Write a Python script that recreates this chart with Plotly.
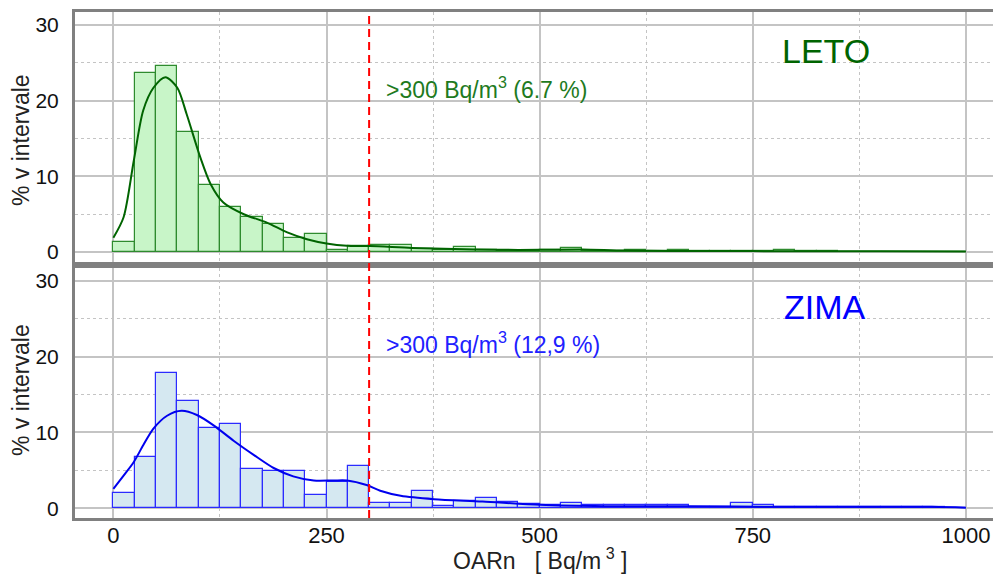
import plotly.graph_objects as go
from plotly.subplots import make_subplots

# Histogram bins (width 25, from 0 to 1000)
bin_starts = [i * 25 for i in range(40)]
bin_width = 25

leto_pct = [1.3, 23.6, 24.6, 15.9, 8.8, 6.0, 4.7, 3.65, 1.9, 2.4,
            0.25, 0.75, 0.9, 1.0, 0.45, 0.25, 0.7, 0.3, 0.1, 0.1,
            0.3, 0.6, 0.1, 0.1, 0.25, 0.1, 0.25, 0.1, 0.1, 0.1,
            0.1, 0.25, 0.1, 0.1, 0.05, 0.05, 0.05, 0.05, 0.05, 0.05]

zima_pct = [2.0, 6.8, 17.9, 14.1, 10.6, 11.05, 5.1, 4.85, 4.9, 1.7,
            3.5, 5.5, 0.7, 0.66, 2.25, 0.3, 0.97, 1.28, 0.75, 0.6,
            0.4, 0.7, 0.44, 0.4, 0.4, 0.4, 0.4, 0.2, 0.2, 0.7,
            0.44, 0.18, 0.18, 0.18, 0.18, 0.18, 0.18, 0.18, 0.1, 0.05]

# Smoothed density curves
leto_curve_x = [0, 12, 24, 35, 47, 61, 75, 86, 102, 114, 129, 153, 180, 204,
                227, 250, 274, 301, 350, 400, 450, 500, 550, 600, 700, 800, 900, 1000]
leto_curve_y = [1.9, 4.6, 12.1, 18.7, 21.7, 23.1, 21.7, 18.2, 12.5, 9.0, 6.55, 5.0, 3.9, 2.6,
                1.7, 1.14, 0.83, 0.8, 0.55, 0.4, 0.3, 0.3, 0.35, 0.2, 0.15, 0.12, 0.1, 0.08]

zima_curve_x = [0, 12, 24, 35, 47, 63, 80, 98, 118, 141, 165, 188, 211, 235, 258, 274,
                297, 313, 337, 376, 433, 500, 577, 672, 768, 960, 1000]
zima_curve_y = [2.55, 4.3, 6.1, 8.3, 10.5, 12.2, 12.85, 12.3, 10.9, 8.9, 7.0, 5.3, 4.2, 3.65,
                3.65, 3.65, 3.05, 2.3, 1.63, 1.19, 0.88, 0.44, 0.26, 0.26, 0.18, 0.18, 0.05]

threshold = 300
y_ticks = [0, 10, 20, 30]
x_ticks = [0, 250, 500, 750, 1000]

FONT = "Liberation Sans, Arial, sans-serif"
GREEN_FILL = "#c8f5c8"
GREEN_LINE = "#2e8b2e"
GREEN_CURVE = "#006400"
BLUE_FILL = "#d5e8f1"
BLUE_LINE = "#2b2bff"
BLUE_CURVE = "#0000ee"

fig = make_subplots(rows=2, cols=1, shared_xaxes=False, vertical_spacing=0.012)

centers = [s + bin_width / 2 for s in bin_starts]

fig.add_trace(go.Bar(x=centers, y=leto_pct, width=bin_width,
                     marker=dict(color=GREEN_FILL, line=dict(color=GREEN_LINE, width=1.2)),
                     showlegend=False), row=1, col=1)
fig.add_trace(go.Scatter(x=leto_curve_x, y=leto_curve_y, mode="lines",
                         line=dict(color=GREEN_CURVE, width=2, shape="spline", smoothing=0.8),
                         showlegend=False), row=1, col=1)

fig.add_trace(go.Bar(x=centers, y=zima_pct, width=bin_width,
                     marker=dict(color=BLUE_FILL, line=dict(color=BLUE_LINE, width=1.2)),
                     showlegend=False), row=2, col=1)
fig.add_trace(go.Scatter(x=zima_curve_x, y=zima_curve_y, mode="lines",
                         line=dict(color=BLUE_CURVE, width=2, shape="spline", smoothing=0.8),
                         showlegend=False), row=2, col=1)

xaxis_common = dict(range=[-45, 1040], tickvals=x_ticks, showgrid=True,
                    gridcolor="#c4c4c4", gridwidth=1.5, zeroline=False,
                    showline=True, mirror=True, linewidth=3, linecolor="#808080",
                    minor=dict(dtick=125, tick0=0, showgrid=True, griddash="dot",
                               gridcolor="#c4c4c4", gridwidth=1),
                    tickfont=dict(family=FONT, size=22, color="#111"),
                    ticks="", ticklabelstandoff=-4, automargin=False)
yaxis_common = dict(range=[-1.3, 31.7], tickvals=y_ticks, showgrid=True,
                    gridcolor="#c4c4c4", gridwidth=1.5, zeroline=False,
                    showline=True, mirror=True, linewidth=3, linecolor="#808080",
                    minor=dict(dtick=5, tick0=0, showgrid=True, griddash="dot",
                               gridcolor="#c4c4c4", gridwidth=1),
                    tickfont=dict(family=FONT, size=21, color="#111"),
                    ticks="", ticklabelstandoff=9, automargin=False)

fig.update_xaxes(**xaxis_common)
fig.update_xaxes(showticklabels=False, row=1, col=1)
fig.update_yaxes(**yaxis_common)

# page body has an 8px default margin; size and margins compensate for it
fig.update_layout(
    width=993, height=566,
    margin=dict(l=67, r=1, t=4, b=56),
    plot_bgcolor="white", paper_bgcolor="white",
    bargap=0, barmode="overlay",
    font=dict(family=FONT),
)

fig.update_layout(yaxis=dict(domain=[0.506, 1.0]), yaxis2=dict(domain=[0.0, 0.494]))

# threshold line spanning both panels
fig.add_shape(type="line", x0=threshold, x1=threshold, xref="x2", yref="paper",
              y0=0, y1=1, line=dict(color="#ff0000", width=2, dash="8px,5px"), layer="above")

fig.add_annotation(x=318, y=21.7, xref="x", yref="y", xanchor="left", yanchor="middle",
                   text=">300 Bq/m<sup>3</sup> (6.7 %)", showarrow=False,
                   font=dict(family=FONT, size=23, color="#1e7a1e"))
fig.add_annotation(x=318, y=21.8, xref="x2", yref="y2", xanchor="left", yanchor="middle",
                   text=">300 Bq/m<sup>3</sup> (12,9 %)", showarrow=False,
                   font=dict(family=FONT, size=23, color="#2020ff"))
fig.add_annotation(x=782, y=26.6, xref="x", yref="y", xanchor="left", yanchor="middle",
                   text="LETO", showarrow=False,
                   font=dict(family=FONT, size=34, color="#006400"))
fig.add_annotation(x=784, y=26.6, xref="x2", yref="y2", xanchor="left", yanchor="middle",
                   text="ZIMA", showarrow=False,
                   font=dict(family=FONT, size=34, color="#0000ff"))
# axis titles
NB = "\u00a0"
fig.add_annotation(x=500, y=0, xref="x2", yref="paper", xanchor="center", yanchor="middle",
                   yshift=-41,
                   text="OARn" + NB * 3 + "[" + NB + "Bq/m<sup>" + NB + "3</sup>" + NB + "]",
                   showarrow=False,
                   font=dict(family=FONT, size=23, color="#222"))
fig.add_annotation(x=0, y=14.8, xref="paper", yref="y", xanchor="center", yanchor="middle",
                   xshift=-54, textangle=-90, text="% v intervale", showarrow=False,
                   font=dict(family=FONT, size=23, color="#222"))
fig.add_annotation(x=0, y=15.6, xref="paper", yref="y2", xanchor="center", yanchor="middle",
                   xshift=-54, textangle=-90, text="% v intervale", showarrow=False,
                   font=dict(family=FONT, size=23, color="#222"))

fig.write_html("out.html")
